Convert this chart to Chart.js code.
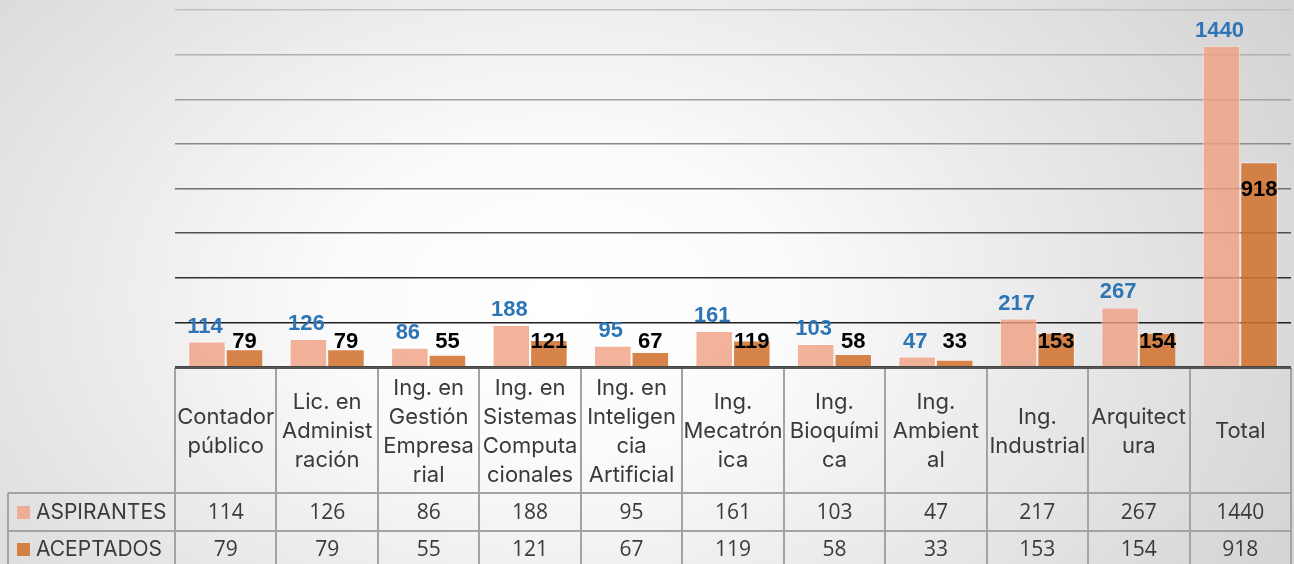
<!DOCTYPE html>
<html>
<head>
<meta charset="utf-8">
<script src="https://cdn.jsdelivr.net/npm/chart.js@4/dist/chart.umd.min.js"></script>
<style>
  html, body { margin: 0; padding: 0; }
  body {
    width: 1294px; height: 564px; overflow: hidden;
    background: radial-gradient(ellipse 900px 620px at 560px 300px, #ffffff 0%, #fbfbfb 25%, #e6e6e6 60%, #cfcfcf 100%);
  }
  #wrap { position: relative; width: 1294px; height: 564px; }
</style>
</head>
<body>
<div id="wrap"><canvas id="c" width="1294" height="564"></canvas></div>
<script>
// ---- data ----
const categories = [
  ["Contador", "público"],
  ["Lic. en", "Administ", "ración"],
  ["Ing. en", "Gestión", "Empresa", "rial"],
  ["Ing. en", "Sistemas", "Computa", "cionales"],
  ["Ing. en", "Inteligen", "cia", "Artificial"],
  ["Ing.", "Mecatrón", "ica"],
  ["Ing.", "Bioquími", "ca"],
  ["Ing.", "Ambient", "al"],
  ["Ing.", "Industrial"],
  ["Arquitect", "ura"],
  ["Total"]
];
const seriesNames = ["ASPIRANTES", "ACEPTADOS"];
const aspirantes = [114, 126, 86, 188, 95, 161, 103, 47, 217, 267, 1440];
const aceptados = [79, 79, 55, 121, 67, 119, 58, 33, 153, 154, 918];
const yTicks = [0, 200, 400, 600, 800, 1000, 1200, 1400, 1600];

const FONT = "Inter, 'Open Sans', 'Liberation Sans', sans-serif";
const NUMFONT = "'Open Sans', Inter, sans-serif";
const LABELFONT = "'Liberation Sans', Arial, sans-serif";
const colAsp = "rgba(240,160,130,0.8)";
const colAce = "rgba(210,115,50,0.88)";
const gridColors = ["#444444", "#202020", "#303030", "#505050", "#707070", "#8a8a8a", "#a0a0a0", "#b0b0b0", "#c0c0c0"];

const tablePlugin = {
  id: "dataTable",
  afterDraw(chart) {
    const ctx = chart.ctx;
    const area = chart.chartArea;
    const n = categories.length;
    const colW = (area.right - area.left) / n;
    const top = area.bottom + 1;
    const headBottom = 493;
    const row1Bottom = 531;
    const row2Bottom = 569;
    const legendLeft = 8;
    ctx.save();
    ctx.strokeStyle = "#a3a3a3";
    ctx.lineWidth = 2;
    ctx.beginPath();
    for (let i = 0; i <= n; i++) {
      const x = Math.round(area.left + i * colW);
      ctx.moveTo(x, top); ctx.lineTo(x, row2Bottom);
    }
    ctx.moveTo(legendLeft, headBottom); ctx.lineTo(area.right, headBottom);
    ctx.moveTo(legendLeft, row1Bottom); ctx.lineTo(area.right, row1Bottom);
    ctx.moveTo(legendLeft, headBottom); ctx.lineTo(legendLeft, row2Bottom);
    ctx.stroke();
    ctx.strokeStyle = "#555555";
    ctx.lineWidth = 2;
    ctx.beginPath();
    ctx.moveTo(area.left, area.bottom + 1); ctx.lineTo(area.right, area.bottom + 1);
    ctx.stroke();

    ctx.fillStyle = "#3a3a3a";
    ctx.textAlign = "center";
    ctx.textBaseline = "middle";
    ctx.font = "22px " + FONT;
    const headMid = (top + headBottom) / 2 + 1;
    const lh = 29;
    categories.forEach((lines, i) => {
      const cx = area.left + (i + 0.5) * colW;
      const y0 = headMid - (lines.length - 1) * lh / 2;
      lines.forEach((t, k) => ctx.fillText(t, cx, y0 + k * lh));
    });
    ctx.font = "21px " + NUMFONT;
    const rows = [aspirantes, aceptados];
    const rowMids = [(headBottom + row1Bottom) / 2 + 1, (row1Bottom + row2Bottom) / 2];
    rows.forEach((vals, r) => {
      vals.forEach((v, i) => {
        const cx = area.left + (i + 0.5) * colW;
        ctx.fillText(String(v), cx, rowMids[r]);
      });
    });
    ctx.textAlign = "left";
    ctx.font = "21px " + FONT;
    const keyCols = [colAsp, colAce];
    seriesNames.forEach((name, r) => {
      ctx.fillStyle = keyCols[r];
      ctx.fillRect(17, rowMids[r] - 7, 13, 13);
      ctx.fillStyle = "#3a3a3a";
      ctx.fillText(name, 36, rowMids[r]);
    });
    ctx.restore();
  },
  afterDatasetsDraw(chart) {
    const ctx = chart.ctx;
    const yScale = chart.scales.y;
    ctx.save();
    ctx.textAlign = "center";
    ctx.textBaseline = "middle";
    ctx.font = "bold 22px " + LABELFONT;
    const m0 = chart.getDatasetMeta(0);
    const m1 = chart.getDatasetMeta(1);
    ctx.fillStyle = "#2e75b6";
    m0.data.forEach((bar, i) => {
      ctx.fillText(String(aspirantes[i]), bar.x - 2, bar.y - 15);
    });
    ctx.fillStyle = "#000000";
    const lowY = yScale.getPixelForValue(112);
    m1.data.forEach((bar, i) => {
      ctx.fillText(String(aceptados[i]), bar.x, Math.min(lowY, bar.y + 28));
    });
    ctx.restore();
  }
};

Chart.defaults.font.family = FONT;

new Chart(document.getElementById("c"), {
  type: "bar",
  data: {
    labels: categories,
    datasets: [
      { label: seriesNames[0], data: aspirantes, backgroundColor: colAsp, borderColor: "rgba(255,255,255,0.6)", borderWidth: 1, categoryPercentage: 0.74, barPercentage: 1.0 },
      { label: seriesNames[1], data: aceptados, backgroundColor: colAce, borderColor: "rgba(255,255,255,0.6)", borderWidth: 1, categoryPercentage: 0.74, barPercentage: 1.0 }
    ]
  },
  options: {
    responsive: false,
    animation: false,
    layout: { padding: { left: 175, right: 3, top: 10, bottom: 197 } },
    plugins: { legend: { display: false }, tooltip: { enabled: false } },
    scales: {
      x: { display: false },
      y: {
        min: 0, max: 1600,
        afterBuildTicks(axis) { axis.ticks = yTicks.map(v => ({ value: v })); },
        afterFit(axis) { axis.width = 0; },
        ticks: { display: false },
        border: { display: false },
        grid: {
          drawTicks: false,
          lineWidth: 1.5,
          color: (c) => gridColors[Math.max(0, yTicks.indexOf(c.tick.value))]
        }
      }
    }
  },
  plugins: [tablePlugin]
});
</script>
</body>
</html>
